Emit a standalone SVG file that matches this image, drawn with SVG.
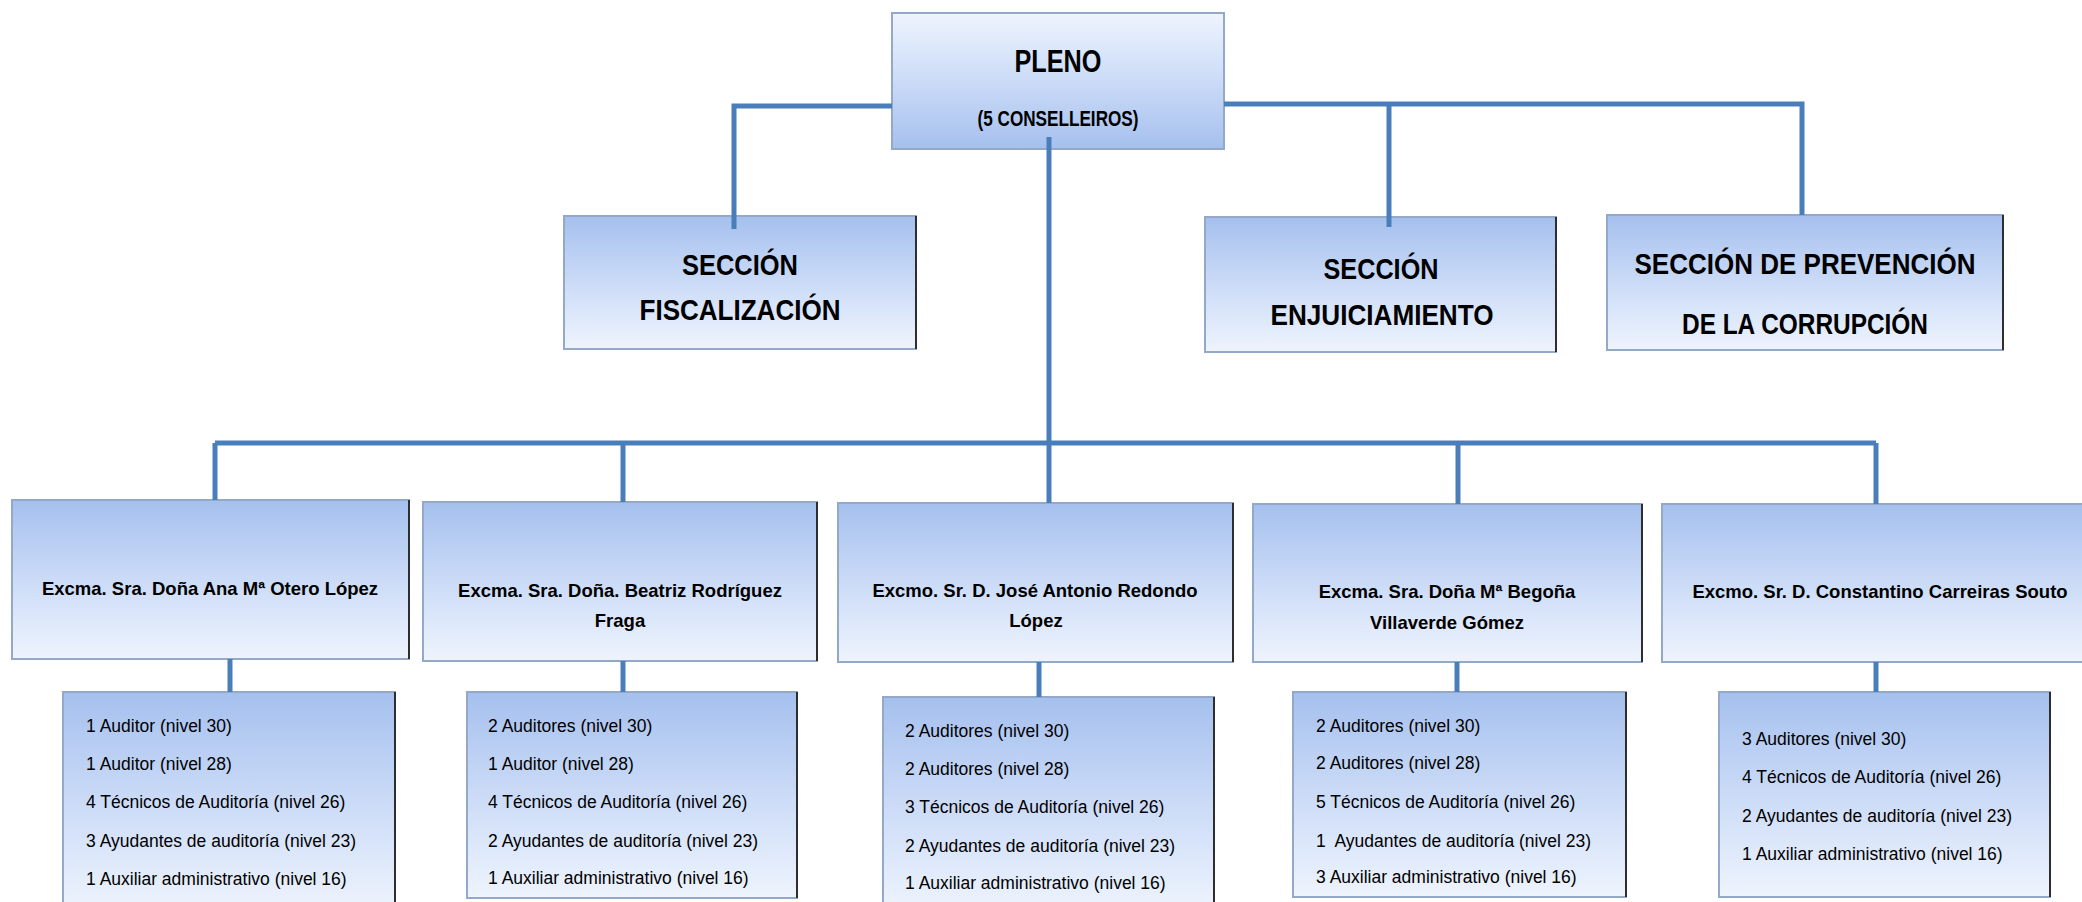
<svg xmlns="http://www.w3.org/2000/svg" width="2082" height="902" viewBox="0 0 2082 902">
<defs>
<linearGradient id="gDown" x1="0" y1="0" x2="0" y2="1">
<stop offset="0" stop-color="#a5c0ee"/>
<stop offset="0.5" stop-color="#cbdbf7"/>
<stop offset="1" stop-color="#eef4fd"/>
</linearGradient>
<linearGradient id="gUp" x1="0" y1="0" x2="0" y2="1">
<stop offset="0" stop-color="#eef4fd"/>
<stop offset="0.5" stop-color="#cbdbf7"/>
<stop offset="1" stop-color="#a5c0ee"/>
</linearGradient>
<style>
.box{fill:url(#gDown);stroke:#94a8c8;stroke-width:2}
.boxUp{fill:url(#gUp);stroke:#94a8c8;stroke-width:2}
.edge{stroke:#2e2e2e;stroke-width:2}
.con{fill:none;stroke:#4a7ebb;stroke-width:5}
.h1{font-family:"Liberation Sans",Arial,sans-serif;font-weight:bold;fill:#000;text-anchor:middle}
.nm{font-family:"Liberation Sans",Arial,sans-serif;font-weight:bold;font-size:18.5px;fill:#000;text-anchor:middle}
.st{font-family:"Liberation Sans",Arial,sans-serif;font-size:17.5px;fill:#000}
</style>
</defs>
<rect width="2082" height="902" fill="#fff"/>

<g id="pleno">
<rect class="boxUp" x="892" y="13" width="332" height="136"/>
<text class="h1" x="1058" y="72" font-size="31" textLength="87" lengthAdjust="spacingAndGlyphs">PLENO</text>
<text class="h1" x="1058" y="126" font-size="22" textLength="161" lengthAdjust="spacingAndGlyphs">(5 CONSELLEIROS)</text>
</g>

<g id="seccion-fiscalizacion">
<rect class="box" x="564" y="216" width="352" height="133"/>
<line class="edge" x1="916" y1="216" x2="916" y2="349"/>
<text class="h1" x="740" y="275" font-size="29.5" textLength="116" lengthAdjust="spacingAndGlyphs">SECCIÓN</text>
<text class="h1" x="740" y="320" font-size="29.5" textLength="201" lengthAdjust="spacingAndGlyphs">FISCALIZACIÓN</text>
</g>

<g id="seccion-enjuiciamiento">
<rect class="box" x="1205" y="217" width="351" height="135"/>
<line class="edge" x1="1556" y1="217" x2="1556" y2="352"/>
<text class="h1" x="1381" y="279" font-size="29.5" textLength="115" lengthAdjust="spacingAndGlyphs">SECCIÓN</text>
<text class="h1" x="1382" y="325" font-size="29.5" textLength="223" lengthAdjust="spacingAndGlyphs">ENJUICIAMIENTO</text>
</g>

<g id="seccion-prevencion">
<rect class="box" x="1607" y="215" width="396" height="135"/>
<line class="edge" x1="2003" y1="215" x2="2003" y2="350"/>
<text class="h1" x="1805" y="274" font-size="29.5" textLength="341" lengthAdjust="spacingAndGlyphs">SECCIÓN DE PREVENCIÓN</text>
<text class="h1" x="1805" y="334" font-size="29.5" textLength="246" lengthAdjust="spacingAndGlyphs">DE LA CORRUPCIÓN</text>
</g>

<g id="conselleiro-1">
<rect class="box" x="12" y="500" width="397" height="159"/>
<line class="edge" x1="409" y1="500" x2="409" y2="659"/>
<text class="nm" x="210" y="595">Excma. Sra. Doña Ana Mª Otero López</text>
</g>
<g id="persoal-1">
<rect class="box" x="63" y="692" width="332" height="220"/>
<line class="edge" x1="395" y1="692" x2="395" y2="902"/>
<text class="st" x="86" y="732">1 Auditor (nivel 30)</text>
<text class="st" x="86" y="770">1 Auditor (nivel 28)</text>
<text class="st" x="86" y="808">4 Técnicos de Auditoría (nivel 26)</text>
<text class="st" x="86" y="847">3 Ayudantes de auditoría (nivel 23)</text>
<text class="st" x="86" y="885">1 Auxiliar administrativo (nivel 16)</text>
</g>

<g id="conselleiro-2">
<rect class="box" x="423" y="502" width="394" height="159"/>
<line class="edge" x1="817" y1="502" x2="817" y2="661"/>
<text class="nm" x="620" y="597">Excma. Sra. Doña. Beatriz Rodríguez</text>
<text class="nm" x="620" y="627">Fraga</text>
</g>
<g id="persoal-2">
<rect class="box" x="467" y="692" width="330" height="206"/>
<line class="edge" x1="797" y1="692" x2="797" y2="898"/>
<text class="st" x="488" y="732">2 Auditores (nivel 30)</text>
<text class="st" x="488" y="770">1 Auditor (nivel 28)</text>
<text class="st" x="488" y="808">4 Técnicos de Auditoría (nivel 26)</text>
<text class="st" x="488" y="847">2 Ayudantes de auditoría (nivel 23)</text>
<text class="st" x="488" y="884">1 Auxiliar administrativo (nivel 16)</text>
</g>

<g id="conselleiro-3">
<rect class="box" x="838" y="503" width="395" height="159"/>
<line class="edge" x1="1233" y1="503" x2="1233" y2="662"/>
<text class="nm" x="1035" y="597">Excmo. Sr. D. José Antonio Redondo</text>
<text class="nm" x="1036" y="627">López</text>
</g>
<g id="persoal-3">
<rect class="box" x="883" y="697" width="331" height="215"/>
<line class="edge" x1="1214" y1="697" x2="1214" y2="902"/>
<text class="st" x="905" y="737">2 Auditores (nivel 30)</text>
<text class="st" x="905" y="775">2 Auditores (nivel 28)</text>
<text class="st" x="905" y="813">3 Técnicos de Auditoría (nivel 26)</text>
<text class="st" x="905" y="852">2 Ayudantes de auditoría (nivel 23)</text>
<text class="st" x="905" y="889">1 Auxiliar administrativo (nivel 16)</text>
</g>

<g id="conselleiro-4">
<rect class="box" x="1253" y="504" width="389" height="158"/>
<line class="edge" x1="1642" y1="504" x2="1642" y2="662"/>
<text class="nm" x="1447" y="598">Excma. Sra. Doña Mª Begoña</text>
<text class="nm" x="1447" y="629">Villaverde Gómez</text>
</g>
<g id="persoal-4">
<rect class="box" x="1293" y="692" width="333" height="205"/>
<line class="edge" x1="1626" y1="692" x2="1626" y2="897"/>
<text class="st" x="1316" y="732">2 Auditores (nivel 30)</text>
<text class="st" x="1316" y="769">2 Auditores (nivel 28)</text>
<text class="st" x="1316" y="808">5 Técnicos de Auditoría (nivel 26)</text>
<text class="st" x="1316" y="847" xml:space="preserve">1  Ayudantes de auditoría (nivel 23)</text>
<text class="st" x="1316" y="883">3 Auxiliar administrativo (nivel 16)</text>
</g>

<g id="conselleiro-5">
<rect class="box" x="1662" y="504" width="430" height="158"/>
<text class="nm" x="1880" y="598">Excmo. Sr. D. Constantino Carreiras Souto</text>
</g>
<g id="persoal-5">
<rect class="box" x="1719" y="692" width="331" height="205"/>
<line class="edge" x1="2050" y1="692" x2="2050" y2="897"/>
<text class="st" x="1742" y="745">3 Auditores (nivel 30)</text>
<text class="st" x="1742" y="783">4 Técnicos de Auditoría (nivel 26)</text>
<text class="st" x="1742" y="822">2 Ayudantes de auditoría (nivel 23)</text>
<text class="st" x="1742" y="860">1 Auxiliar administrativo (nivel 16)</text>
</g>

<g id="connectors">
<path class="con" d="M892,106 H734 V229"/>
<path class="con" d="M1224,104 H1802 V215"/>
<path class="con" d="M1389,104 V227"/>
<path class="con" d="M1049,137 V503"/>
<path class="con" d="M215,443 H1876"/>
<path class="con" d="M215,443 V500"/>
<path class="con" d="M623,443 V502"/>
<path class="con" d="M1458,443 V504"/>
<path class="con" d="M1876,443 V504"/>
<path class="con" d="M230,659 V692"/>
<path class="con" d="M623,661 V692"/>
<path class="con" d="M1039,662 V697"/>
<path class="con" d="M1457,662 V692"/>
<path class="con" d="M1876,662 V692"/>
</g>
</svg>
